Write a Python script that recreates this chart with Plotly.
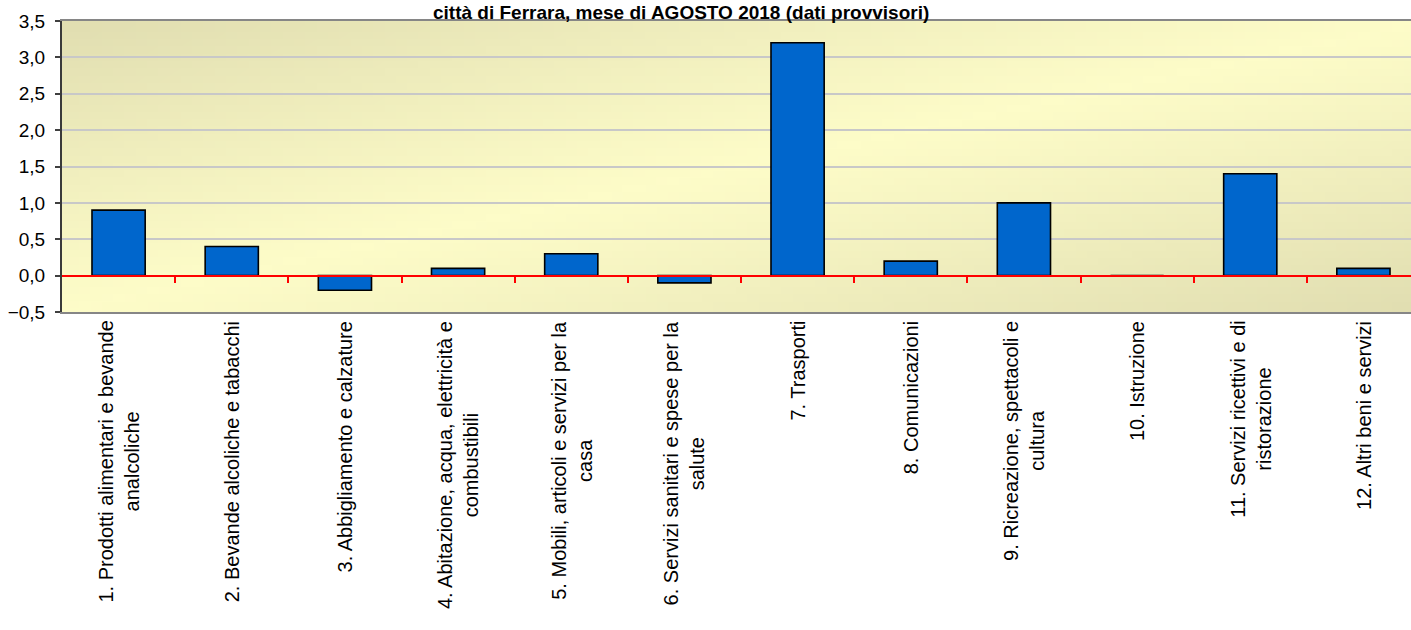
import base64
import struct
import zlib

import plotly.graph_objects as go

# ---------------- data ----------------
categories = [
    "1. Prodotti alimentari e bevande<br>analcoliche",
    "2. Bevande alcoliche e tabacchi",
    "3. Abbigliamento e calzature",
    "4. Abitazione, acqua, elettricità e<br>combustibili",
    "5. Mobili, articoli e servizi per la<br>casa",
    "6. Servizi sanitari e spese per la<br>salute",
    "7. Trasporti",
    "8. Comunicazioni",
    "9. Ricreazione, spettacoli e<br>cultura",
    "10. Istruzione",
    "11. Servizi ricettivi e di<br>ristorazione",
    "12. Altri beni e servizi",
]
values = [0.9, 0.4, -0.2, 0.1, 0.3, -0.1, 3.2, 0.2, 1.0, 0.0, 1.4, 0.1]
y_ticks = [-0.5, 0.0, 0.5, 1.0, 1.5, 2.0, 2.5, 3.0, 3.5]
title_text = "città di Ferrara, mese di AGOSTO 2018 (dati provvisori)"

FONT = "Arial, 'Liberation Sans', sans-serif"

FIG_W, FIG_H = 1420, 630
M_L, M_T, M_B = 62, 21, 318
PLOT_W = FIG_W - M_L


# ---------------- background gradient (styling only) ----------------
def make_png(w, h, pixel):
    raw = b""
    for yy in range(h):
        row = bytearray([0])
        for xx in range(w):
            row.extend(pixel(xx, yy))
        raw += bytes(row)

    def chunk(tag, data):
        c = struct.pack(">I", len(data)) + tag + data
        return c + struct.pack(">I", zlib.crc32(tag + data) & 0xFFFFFFFF)

    png = b"\x89PNG\r\n\x1a\n"
    png += chunk(b"IHDR", struct.pack(">IIBBBBB", w, h, 8, 2, 0, 0, 0))
    png += chunk(b"IDAT", zlib.compress(raw, 9))
    png += chunk(b"IEND", b"")
    return "data:image/png;base64," + base64.b64encode(png).decode()


DARK = (225, 222, 177)
LIGHT = (253, 252, 200)
GW, GH = 120, 40


def grad_pixel(xx, yy):
    u = xx / (GW - 1)
    v = yy / (GH - 1)
    t = (u + v) / 2.0
    k = abs(2 * t - 1) ** 1.1
    return bytes(int(round(LIGHT[i] + (DARK[i] - LIGHT[i]) * k)) for i in range(3))


bg_src = make_png(GW, GH, grad_pixel)

# ---------------- figure ----------------
n = len(categories)
idx = list(range(n))
boundaries = [i + 0.5 for i in range(n - 1)]

fig = go.Figure()
fig.add_trace(
    go.Bar(
        x=idx,
        y=values,
        marker=dict(color="#0066CC", line=dict(color="#000000", width=1.6)),
        hoverinfo="y",
    )
)
# invisible helper trace so the zero-axis (red line with category ticks) is drawn
fig.add_trace(
    go.Scatter(
        x=boundaries,
        y=[0] * len(boundaries),
        xaxis="x2",
        yaxis="y",
        mode="markers",
        marker=dict(opacity=0, size=1),
        hoverinfo="skip",
        showlegend=False,
    )
)

y_min, y_max = y_ticks[0], y_ticks[-1]
zero_pos = (0 - y_min) / (y_max - y_min)

annotations = [
    dict(
        text="<b>" + title_text + "</b>",
        xref="paper",
        yref="paper",
        x=(681 - M_L) / PLOT_W,
        y=1,
        xanchor="center",
        yanchor="top",
        yshift=M_T,
        showarrow=False,
        font=dict(family=FONT, size=19, color="#000000"),
    )
]
for i, lab in enumerate(categories):
    annotations.append(
        dict(
            text=lab,
            xref="x",
            yref="paper",
            x=i,
            y=0,
            xanchor="center",
            yanchor="top",
            yshift=-7,
            textangle=-90,
            align="center",
            showarrow=False,
            font=dict(family=FONT, size=20, color="#000000"),
        )
    )

fig.update_layout(
    width=FIG_W,
    height=FIG_H,
    margin=dict(l=M_L, r=0, t=M_T, b=M_B, autoexpand=False),
    paper_bgcolor="#FFFFFF",
    plot_bgcolor="rgba(0,0,0,0)",
    bargap=0.53,
    showlegend=False,
    separators=",.",
    font=dict(family=FONT, color="#000000"),
    images=[
        dict(
            source=bg_src,
            xref="paper",
            yref="paper",
            x=0,
            y=1,
            sizex=1,
            sizey=1,
            xanchor="left",
            yanchor="top",
            sizing="stretch",
            layer="below",
        )
    ],
    xaxis=dict(
        range=[-0.5, n - 0.5],
        tickmode="array",
        tickvals=idx,
        showticklabels=False,
        ticks="",
        showgrid=False,
        zeroline=False,
        showline=True,
        linecolor="#868686",
        linewidth=2,
        mirror=True,
    ),
    xaxis2=dict(
        overlaying="x",
        anchor="free",
        position=zero_pos,
        side="bottom",
        range=[-0.5, n - 0.5],
        tickmode="array",
        tickvals=boundaries,
        showticklabels=False,
        ticks="outside",
        ticklen=6,
        tickwidth=1.5,
        tickcolor="#FF0000",
        showline=True,
        linecolor="#FF0000",
        linewidth=2,
        showgrid=False,
        zeroline=False,
    ),
    yaxis=dict(
        range=[y_min, y_max],
        tickmode="array",
        tickvals=y_ticks,
        tickformat=".1f",
        tickfont=dict(family=FONT, size=19, color="#000000"),
        ticks="outside",
        ticklen=5,
        tickwidth=1.5,
        tickcolor="#404040",
        showline=True,
        linecolor="#3a3a3a",
        linewidth=2,
        showgrid=True,
        gridcolor="#C8C8C8",
        gridwidth=1.5,
        zeroline=False,
        ticklabelstandoff=6,
    ),
    annotations=annotations,
)

fig.write_html(
    "out.html",
    config={"displayModeBar": False},
    post_script="document.body.style.margin='0';document.body.style.padding='0';document.body.style.overflow='hidden';",
)
